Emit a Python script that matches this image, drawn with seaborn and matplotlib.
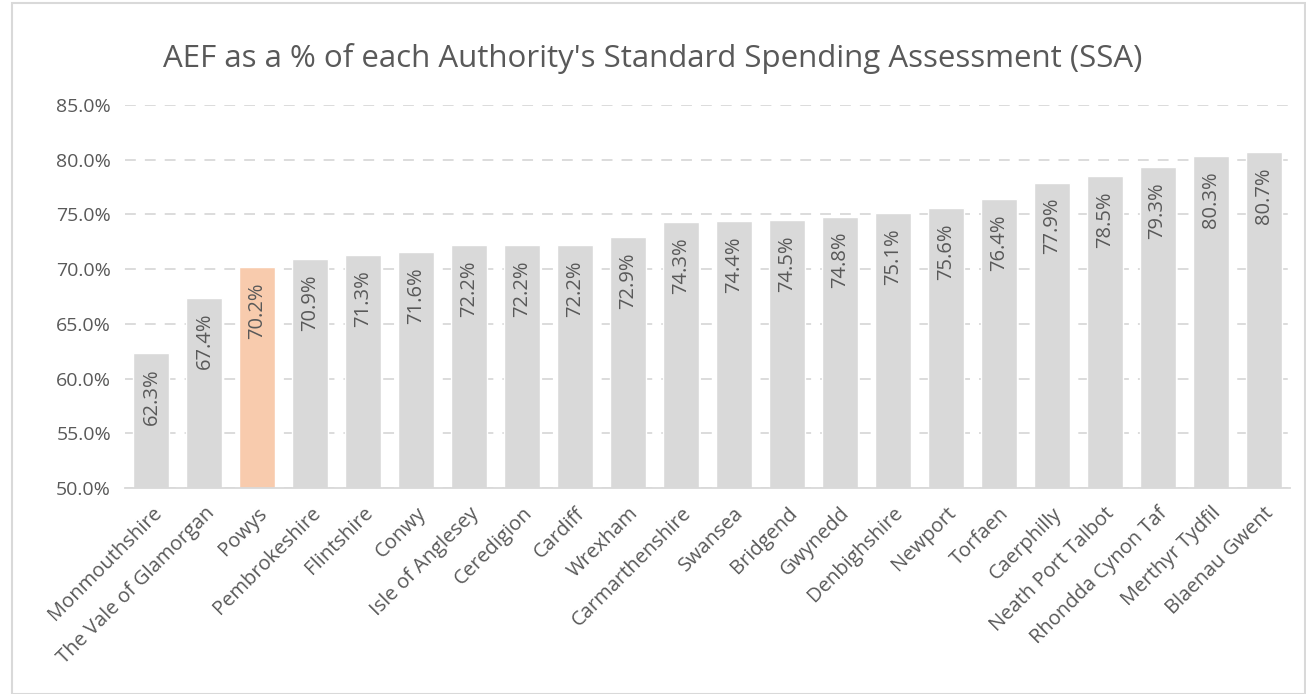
import matplotlib.pyplot as plt
import matplotlib.ticker as mticker
import pandas as pd
import seaborn as sns
from matplotlib.patches import Rectangle

authorities = [
    "Monmouthshire", "The Vale of Glamorgan", "Powys", "Pembrokeshire",
    "Flintshire", "Conwy", "Isle of Anglesey", "Ceredigion", "Cardiff",
    "Wrexham", "Carmarthenshire", "Swansea", "Bridgend", "Gwynedd",
    "Denbighshire", "Newport", "Torfaen", "Caerphilly", "Neath Port Talbot",
    "Rhondda Cynon Taf", "Merthyr Tydfil", "Blaenau Gwent",
]
aef_pct = [
    62.3, 67.4, 70.2, 70.9, 71.3, 71.6, 72.2, 72.2, 72.2, 72.9, 74.3,
    74.4, 74.5, 74.8, 75.1, 75.6, 76.4, 77.9, 78.5, 79.3, 80.3, 80.7,
]
highlight = "Powys"

TEXT = "#595959"
GREY = "#D9D9D9"
PEACH = "#F8CBAD"


def main():
    df = pd.DataFrame({"Authority": authorities, "AEF": aef_pct})
    palette = {a: (PEACH if a == highlight else GREY) for a in authorities}

    sns.set_style("white")
    plt.rcParams["font.family"] = ["Open Sans", "DejaVu Sans"]

    fig = plt.figure(figsize=(13.06, 6.94), dpi=100)
    ax = fig.add_axes([125 / 1306, 1 - 488 / 694, 1165 / 1306, 383 / 694])

    sns.barplot(
        data=df, x="Authority", y="AEF", hue="Authority",
        palette=palette, legend=False, width=0.68, saturation=1, ax=ax,
    )

    for patch, val in zip(ax.patches, aef_pct):
        ax.annotate(
            f"{val:.1f}%",
            (patch.get_x() + patch.get_width() / 2, patch.get_height()),
            xytext=(0, -11), textcoords="offset points",
            rotation=90, ha="center", va="top", fontsize=14.5, color=TEXT,
        )

    ax.set_ylim(50, 85)
    ax.set_xlim(-0.5, len(authorities) - 0.5)
    ax.yaxis.set_major_locator(mticker.MultipleLocator(5))
    ax.yaxis.set_major_formatter(mticker.FuncFormatter(lambda v, _: f"{v:.1f}%"))
    ax.grid(axis="y", color=GREY, linestyle=(0, (6, 5)), linewidth=1.3)
    ax.set_axisbelow(True)

    for side in ["top", "right", "left"]:
        ax.spines[side].set_visible(False)
    ax.spines["bottom"].set_color(GREY)
    ax.spines["bottom"].set_linewidth(1.3)

    # Excel-style ticks between categories
    ax.set_xticks([i - 0.5 for i in range(len(authorities) + 1)], minor=True)
    ax.tick_params(axis="x", which="minor", length=6, color=GREY, width=1.3)
    ax.tick_params(axis="x", which="major", length=0, pad=11)
    ax.tick_params(axis="y", length=0, pad=10)
    plt.setp(ax.get_xticklabels(), rotation=45, ha="right",
             rotation_mode="anchor", fontsize=14.5, color=TEXT)
    plt.setp(ax.get_yticklabels(), fontsize=14, color=TEXT)
    ax.set_xlabel("")
    ax.set_ylabel("")

    fig.text(0.5, 1 - 58 / 694,
             "AEF as a % of each Authority's Standard Spending Assessment (SSA)",
             ha="center", va="center", fontsize=22.5, color=TEXT)

    fig.patches.append(Rectangle((12 / 1306, 0), 1 - 12 / 1306 - 0.001, 1 - 3 / 694,
                                 transform=fig.transFigure, fill=False,
                                 edgecolor=GREY, linewidth=1.5))

    fig.savefig("out.png", dpi=100, facecolor="white")


if __name__ == "__main__":
    main()
